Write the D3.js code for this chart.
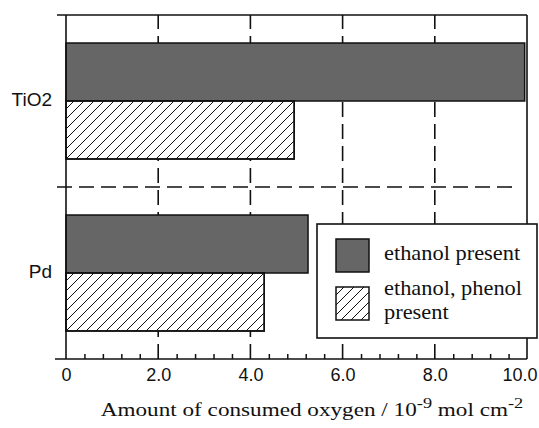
<!DOCTYPE html>
<html>
<head>
  <meta charset="utf-8">
  <title>Consumed oxygen</title>
<script src="https://d3js.org/d3.v7.min.js"></script>
  <style>
    body { margin: 0; background: #fff; }
    .tick text { font: 18px "Liberation Sans", Arial, sans-serif; fill: #111; }
    .cat { font: 19px "Liberation Sans", Arial, sans-serif; fill: #111; }
    .serif { font-family: "Liberation Serif", "Times New Roman", serif; fill: #111; }
  </style>
</head>
<body>
  <script>
    // values
    const categories = ["TiO2", "Pd"];
    const series = ["ethanol present", "ethanol, phenol present"];
    const ethanolValues = [9.95, 5.25];
    const phenolValues = [4.95, 4.3];
    const xTicks = [0, 2, 4, 6, 8, 10];
    const xTickLabels = ["0", "2.0", "4.0", "6.0", "8.0", "10.0"];

    const width = 539, height = 428;
    const margin = { top: 15, right: 12, bottom: 69, left: 66 };
    const x0 = margin.left, x1 = width - margin.right;
    const y0 = margin.top, y1 = height - margin.bottom;

    const svg = d3.select("body").append("svg")
        .attr("width", width)
        .attr("height", height);

    const defs = svg.append("defs");
    const pat = defs.append("pattern")
        .attr("id", "hatch")
        .attr("patternUnits", "userSpaceOnUse")
        .attr("width", 10).attr("height", 10);
    pat.append("path")
        .attr("d", "M-1,1 L1,-1 M0,10 L10,0 M9,11 L11,9")
        .attr("stroke", "#111").attr("stroke-width", 1);

    const x = d3.scaleLinear().domain([0, 10]).range([x0, x1]);
    const y = d3.scaleBand().domain(categories).range([y0, y1]);
    const ySub = d3.scaleBand().domain(series).range([0, y.bandwidth()])
        .paddingInner(0).paddingOuter(0.483);

    // dashed grid lines (behind bars)
    svg.selectAll(".grid")
        .data(xTicks.filter(d => d > 0 && d < 10))
        .enter().append("line")
        .attr("x1", d => x(d)).attr("x2", d => x(d))
        .attr("y1", y1).attr("y2", y0)
        .attr("stroke", "#111").attr("stroke-width", 1.6)
        .attr("stroke-dasharray", "15,7");

    svg.append("line")
        .attr("x1", x0 - 9).attr("x2", x(9.8))
        .attr("y1", y("Pd")).attr("y2", y("Pd"))
        .attr("stroke", "#111").attr("stroke-width", 1.6)
        .attr("stroke-dasharray", "15,7");

    // bars
    const rows = categories.map((c, i) => ({ cat: c, values: [ethanolValues[i], phenolValues[i]] }));
    const fills = ["#666", "url(#hatch)"];

    const grp = svg.selectAll(".row")
        .data(rows)
        .enter().append("g")
        .attr("transform", d => "translate(0," + y(d.cat) + ")");

    const barData = d => d.values.map((v, j) => ({ s: series[j], v: v, j: j }));

    grp.selectAll("rect.base")
        .data(barData)
        .enter().append("rect")
        .attr("class", "base")
        .attr("x", x(0))
        .attr("y", d => ySub(d.s))
        .attr("width", d => x(d.v) - x(0))
        .attr("height", ySub.bandwidth())
        .attr("fill", d => d.j === 0 ? fills[0] : "#fff")
        .attr("stroke", "#111").attr("stroke-width", 1.5);

    grp.selectAll("rect.h")
        .data(d => barData(d).filter(b => b.j === 1))
        .enter().append("rect")
        .attr("class", "h")
        .attr("x", x(0))
        .attr("y", d => ySub(d.s))
        .attr("width", d => x(d.v) - x(0))
        .attr("height", ySub.bandwidth())
        .attr("fill", fills[1])
        .attr("stroke", "#111").attr("stroke-width", 1.5);

    // category labels
    svg.selectAll(".cat")
        .data(categories)
        .enter().append("text")
        .attr("class", "cat")
        .attr("x", x0 - 14)
        .attr("y", d => y(d) + y.bandwidth() / 2 - 2)
        .attr("dy", "0.35em")
        .attr("text-anchor", "end")
        .text(d => d);

    // frame
    const frame = svg.append("g").attr("stroke", "#111").attr("stroke-width", 1.6).attr("fill", "none");
    frame.append("line").attr("x1", x0 - 9).attr("x2", x1).attr("y1", y0).attr("y2", y0);
    frame.append("line").attr("x1", x1).attr("x2", x1).attr("y1", y0).attr("y2", y1);
    frame.append("line").attr("x1", x0).attr("x2", x0).attr("y1", y0).attr("y2", y1);
    frame.append("line").attr("x1", x0 - 11).attr("x2", x1).attr("y1", y1).attr("y2", y1);

    // minor ticks
    const minor = d3.range(0, 10.001, 0.4).map(d => +d.toFixed(1)).filter(d => Math.abs(d / 2 - Math.round(d / 2)) > 0.01);
    svg.append("g")
        .attr("transform", "translate(0," + y1 + ")")
        .call(d3.axisBottom(x).tickValues(minor).tickFormat("").tickSize(-5))
        .call(g => g.select(".domain").remove())
        .call(g => g.selectAll("line").attr("stroke", "#111").attr("stroke-width", 1.5));

    // tick labels
    svg.append("g")
        .attr("transform", "translate(0," + y1 + ")")
        .call(d3.axisBottom(x).tickValues(xTicks).tickFormat((d, i) => xTickLabels[i]).tickSize(0).tickPadding(9))
        .call(g => g.select(".domain").remove())
        .call(g => g.selectAll("text").attr("dy", "0.71em")
            .each(function () {
              // keep the last label inside the picture
              const b = this.getBBox();
              const right = x(d3.select(this.parentNode).datum()) + b.x + b.width;
              if (right > width - 2) d3.select(this).attr("dx", (width - 2 - right));
            }));

    // axis title
    const title = svg.append("g")
        .attr("transform", "translate(312,416) scale(1.22,1)")
        .append("text")
        .attr("class", "serif")
        .attr("text-anchor", "middle")
        .style("font-size", "19px");
    title.append("tspan").text("Amount of consumed oxygen / 10");
    title.append("tspan").attr("dy", -8).style("font-size", "15px").text("-9");
    title.append("tspan").attr("dy", 8).text(" mol cm");
    title.append("tspan").attr("dy", -8).style("font-size", "15px").text("-2");

    // legend
    const lg = svg.append("g").attr("transform", "translate(317,224)");
    lg.append("rect").attr("width", 220).attr("height", 114)
        .attr("fill", "#fff").attr("stroke", "#111").attr("stroke-width", 1.6);
    lg.selectAll(".sw")
        .data(series)
        .enter().append("rect")
        .attr("x", 19).attr("y", (d, i) => 15 + i * 48)
        .attr("width", 33).attr("height", 33)
        .attr("fill", (d, i) => fills[i])
        .attr("stroke", "#111").attr("stroke-width", 1.5);
    const lt = lg.append("g")
        .attr("transform", "translate(67,0) scale(1.12,1)")
        .append("text").attr("class", "serif").style("font-size", "20px");
    lt.append("tspan").attr("x", 0).attr("y", 36).text("ethanol present");
    lt.append("tspan").attr("x", 0).attr("y", 71).text("ethanol, phenol");
    lt.append("tspan").attr("x", 0).attr("y", 95).text("present");
  </script>
</body>
</html>
